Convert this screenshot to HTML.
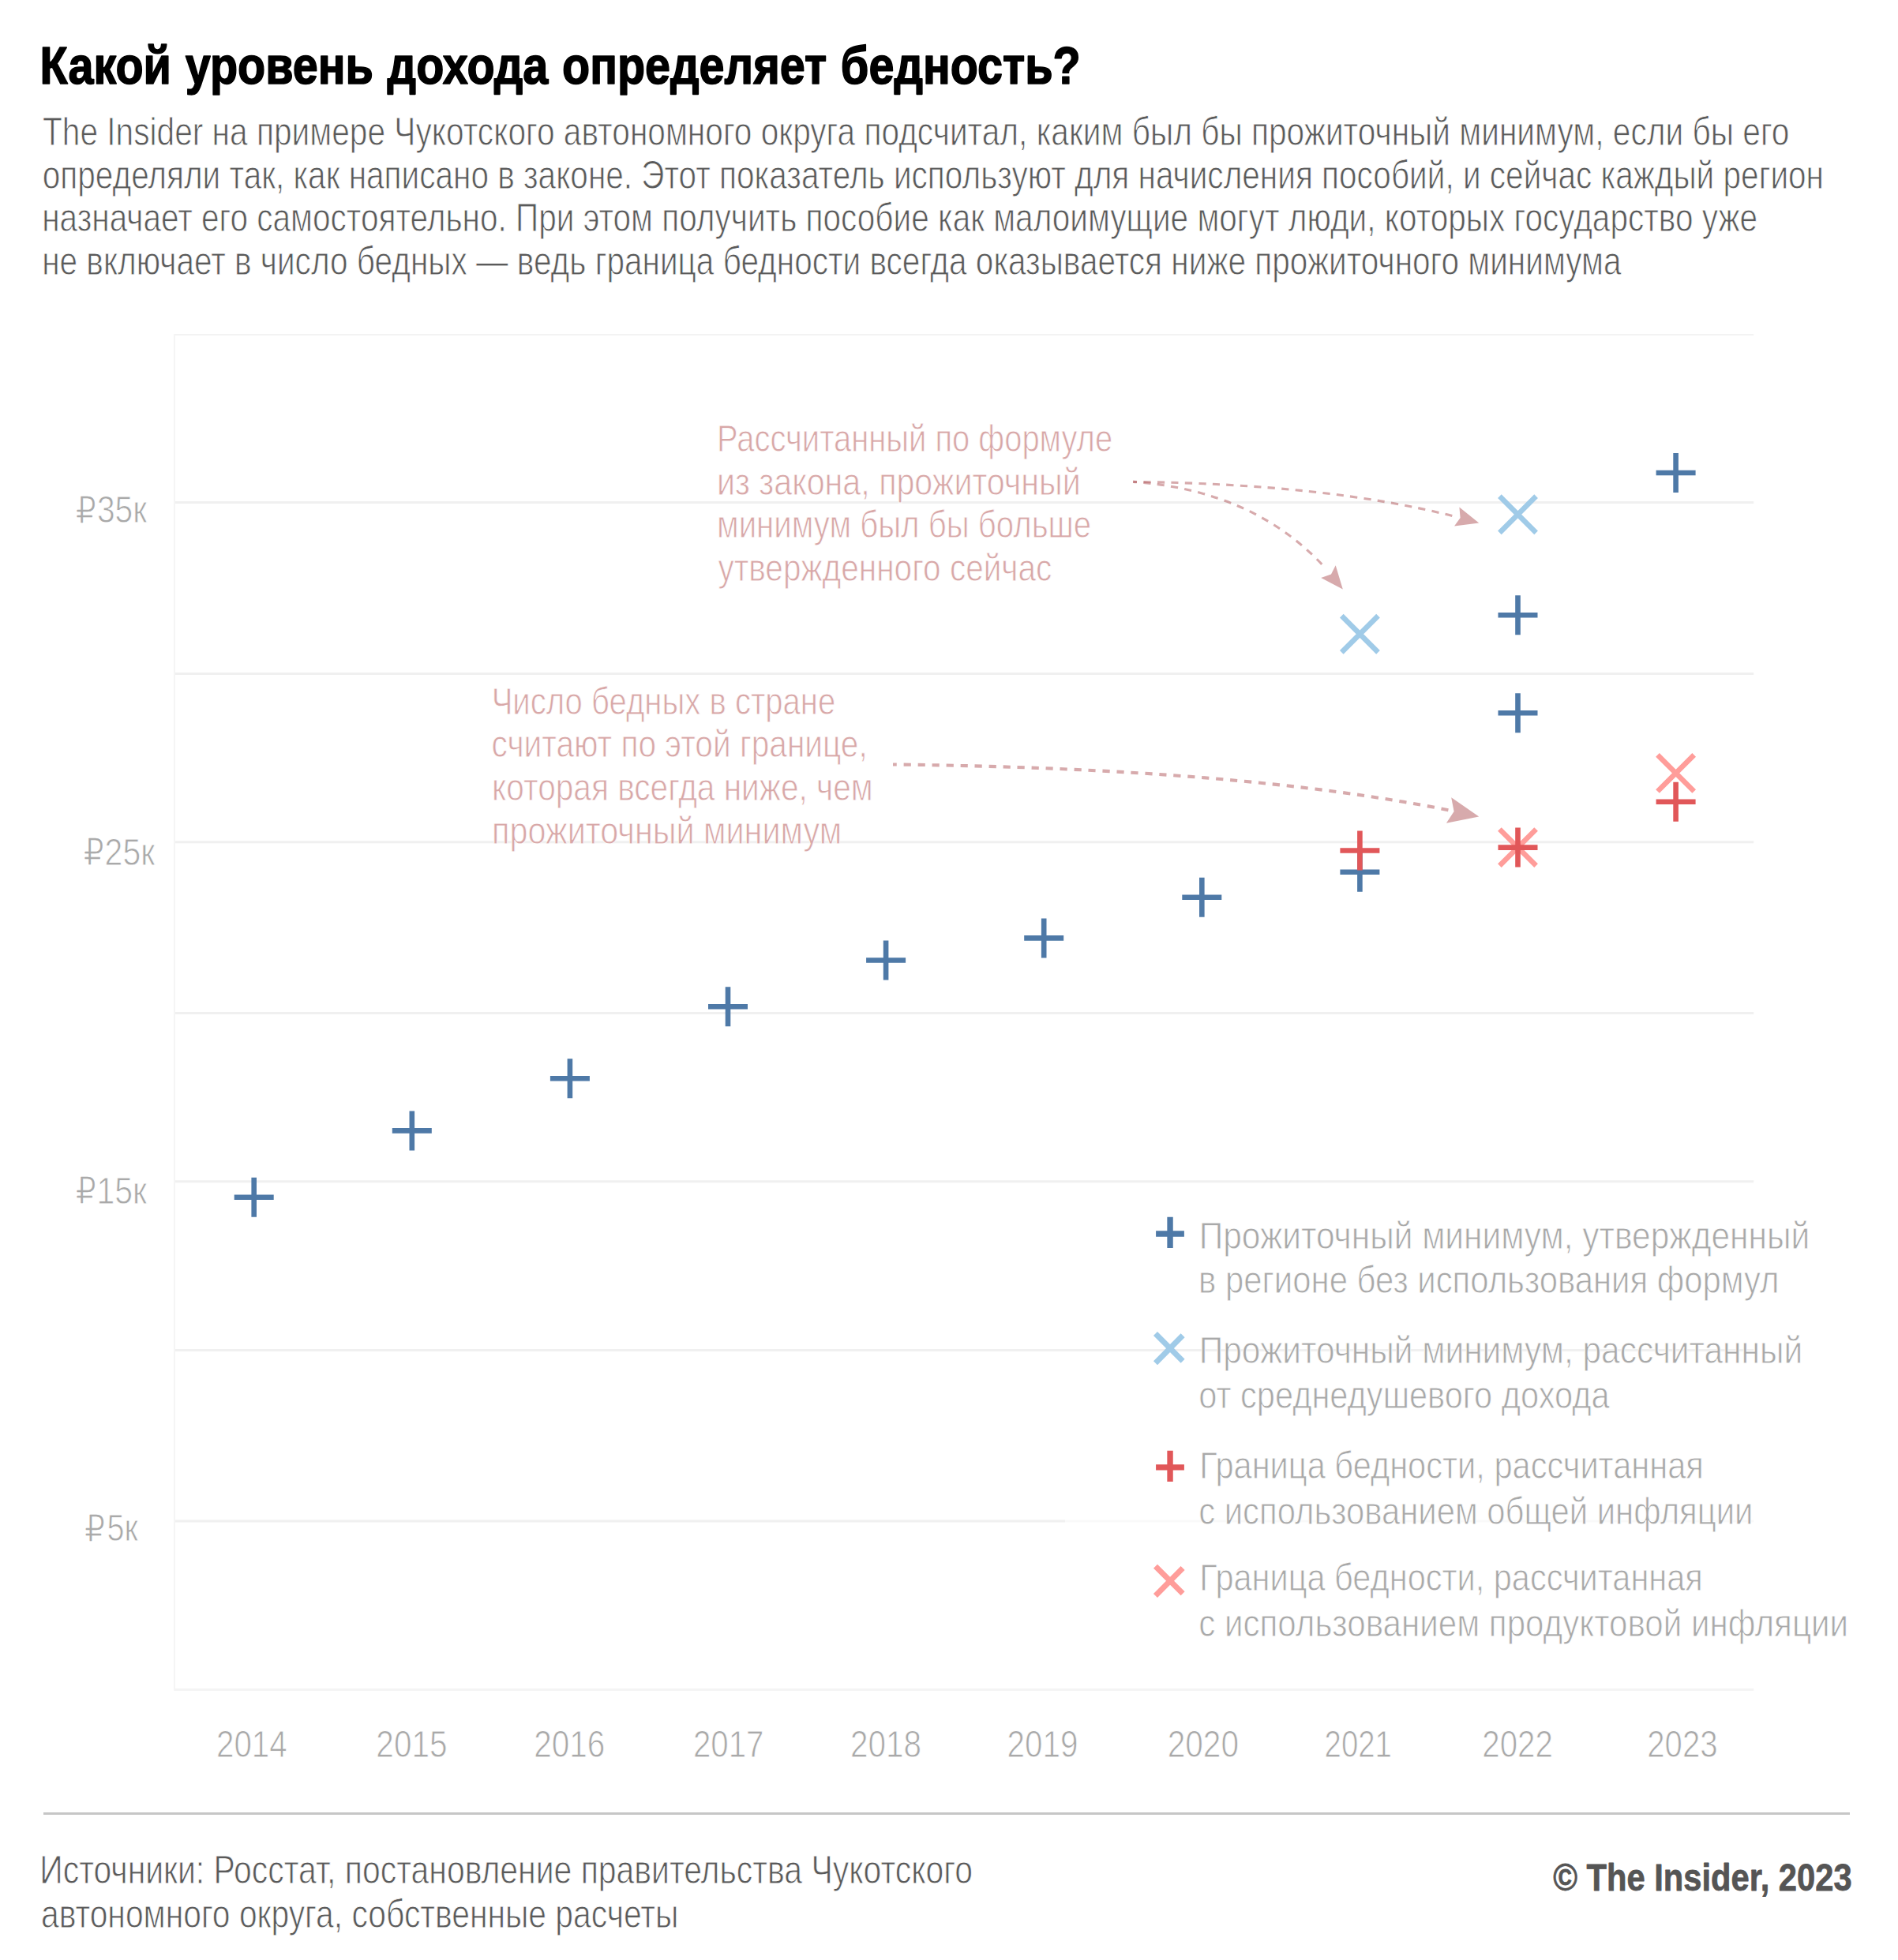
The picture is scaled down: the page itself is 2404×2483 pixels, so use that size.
<!DOCTYPE html>
<html lang="ru"><head><meta charset="utf-8"><title>Какой уровень дохода определяет бедность?</title>
<style>html,body{margin:0;padding:0;background:#fff}svg{display:block}text{font-family:'Liberation Sans', 'DejaVu Sans', sans-serif;white-space:pre}</style></head><body>
<svg width="2404" height="2483" viewBox="0 0 2404 2483">
<rect width="2404" height="2483" fill="#fff"/>
<g fill="none">
<path d="M221.0 636.6H2221.2" stroke="#f0f0f0" stroke-width="3"/>
<path d="M221.0 853.5H2221.2" stroke="#f0f0f0" stroke-width="3"/>
<path d="M221.0 1066.7H2221.2" stroke="#f0f0f0" stroke-width="3"/>
<path d="M221.0 1283.6H2221.2" stroke="#f0f0f0" stroke-width="3"/>
<path d="M221.0 1496.7H2221.2" stroke="#f0f0f0" stroke-width="3"/>
<path d="M221.0 1710.4H2221.2" stroke="#f0f0f0" stroke-width="3"/>
<path d="M221.0 1926.9H2221.2" stroke="#f0f0f0" stroke-width="3"/>
<path d="M221.0 424.0H2221.2" stroke="#f3f3f3" stroke-width="2.2"/>
<path d="M221.0 2140.5H2221.2" stroke="#f4f4f4" stroke-width="3"/>
<path d="M221.0 422.9V2142.0" stroke="#f5f5f5" stroke-width="2"/>
</g>
<rect x="1349" y="1815" width="1011" height="145" fill="#fff" fill-opacity="0.6"/>
<path d="M1699.3 780.1L1745.5 826.3M1699.3 826.3L1745.5 780.1" stroke="#a0cbe8" stroke-width="6.6" fill="none"/>
<path d="M1899.4 628.7L1945.6 674.9M1899.4 674.9L1945.6 628.7" stroke="#a0cbe8" stroke-width="6.6" fill="none"/>
<path d="M1899.4 1050.5L1945.6 1096.7M1899.4 1096.7L1945.6 1050.5" stroke="#ff9d9a" stroke-width="6.6" fill="none"/>
<path d="M2099.5 956.3L2145.7 1002.5M2099.5 1002.5L2145.7 956.3" stroke="#ff9d9a" stroke-width="6.6" fill="none"/>
<path d="M296.7 1516.7H346.7M321.7 1491.7V1541.7" stroke="#4e79a7" stroke-width="6.6" fill="none"/>
<path d="M496.8 1432.4H546.8M521.8 1407.4V1457.4" stroke="#4e79a7" stroke-width="6.6" fill="none"/>
<path d="M696.9 1366.3H746.9M721.9 1341.3V1391.3" stroke="#4e79a7" stroke-width="6.6" fill="none"/>
<path d="M897.0 1275.3H947.0M922.0 1250.3V1300.3" stroke="#4e79a7" stroke-width="6.6" fill="none"/>
<path d="M1097.1 1216.5H1147.1M1122.1 1191.5V1241.5" stroke="#4e79a7" stroke-width="6.6" fill="none"/>
<path d="M1297.2 1188.4H1347.2M1322.2 1163.4V1213.4" stroke="#4e79a7" stroke-width="6.6" fill="none"/>
<path d="M1497.3 1136.8H1547.3M1522.3 1111.8V1161.8" stroke="#4e79a7" stroke-width="6.6" fill="none"/>
<path d="M1697.4 1104.7H1747.4M1722.4 1079.7V1129.7" stroke="#4e79a7" stroke-width="6.6" fill="none"/>
<path d="M1897.5 903.3H1947.5M1922.5 878.3V928.3" stroke="#4e79a7" stroke-width="6.6" fill="none"/>
<path d="M1897.5 779.3H1947.5M1922.5 754.3V804.3" stroke="#4e79a7" stroke-width="6.6" fill="none"/>
<path d="M2097.6 599.0H2147.6M2122.6 574.0V624.0" stroke="#4e79a7" stroke-width="6.6" fill="none"/>
<path d="M1697.4 1077.5H1747.4M1722.4 1052.5V1102.5" stroke="#e15759" stroke-width="6.6" fill="none"/>
<path d="M1897.5 1073.6H1947.5M1922.5 1048.6V1098.6" stroke="#e15759" stroke-width="6.6" fill="none"/>
<path d="M2097.6 1015.8H2147.6M2122.6 990.8V1040.8" stroke="#e15759" stroke-width="6.6" fill="none"/>
<g fill="none" stroke="#b0555a" stroke-opacity="0.5" stroke-width="3.1" stroke-dasharray="9.2 8.3" stroke-dashoffset="4.5"><path d="M1435.2 610.4Q1679.7 613.0 1841.9 654.1"/></g>
<g fill="none" stroke="#b0555a" stroke-opacity="0.5" stroke-width="3.1" stroke-dasharray="9.2 8.3" stroke-dashoffset="4.5"><path d="M1435.2 610.4Q1589.8 621.4 1679.5 720.5"/></g>
<g fill="none" stroke="#b0555a" stroke-opacity="0.5" stroke-width="4.1" stroke-dasharray="9.2 8.8" stroke-dashoffset="4.5"><path d="M1131.0 968.5Q1569.4 973.3 1834.7 1026.3"/></g>
<g fill="#b0555a" fill-opacity="0.5">
<path d="M1873.2 662.6L1848.4 642.5L1849.6 656L1842 666.6Z"/>
<path d="M1700.8 746.5L1691.7 716.3L1686 727.5L1673.2 732.1Z"/>
<path d="M1873.2 1034.5L1838.2 1010.2L1841.6 1028.1L1831.9 1042.7Z"/>
</g>
<path d="M1464.1 1563.0H1499.9M1482.05 1541.8V1581.1" stroke="#4e79a7" stroke-width="7.4" fill="none"/>
<path d="M1463.5 1689.6L1498.1 1724.2M1463.5 1726.8L1498.1 1691.8" stroke="#a0cbe8" stroke-width="7.05" fill="none"/>
<path d="M1464.1 1858.9H1499.9M1482.05 1837.7V1877.0" stroke="#e15759" stroke-width="7.4" fill="none"/>
<path d="M1463.5 1984.2L1498.1 2018.8M1463.5 2021.4L1498.1 1986.4" stroke="#ff9d9a" stroke-width="7.05" fill="none"/>
<path d="M55 2297.4H2343" stroke="#c6c6c6" stroke-width="3" fill="none"/>
<text x="50.57" y="105.70" font-size="67.5" font-weight="bold" fill="#000" textLength="1318.20" lengthAdjust="spacingAndGlyphs" stroke="#000" stroke-width="1.6" stroke-linejoin="round" word-spacing="2">Какой уровень дохода определяет бедность?</text>
<text x="54.00" y="183.65" font-size="49.3" fill="#5a5a5a" textLength="2212.43" lengthAdjust="spacingAndGlyphs" stroke="#fff" stroke-width="0.9">The Insider на примере Чукотского автономного округа подсчитал, каким был бы прожиточный минимум, если бы его</text>
<text x="53.78" y="238.65" font-size="49.3" fill="#5a5a5a" textLength="2256.24" lengthAdjust="spacingAndGlyphs" stroke="#fff" stroke-width="0.9">определяли так, как написано в законе. Этот показатель используют для начисления пособий, и сейчас каждый регион</text>
<text x="53.16" y="293.35" font-size="49.3" fill="#5a5a5a" textLength="2172.97" lengthAdjust="spacingAndGlyphs" stroke="#fff" stroke-width="0.9">назначает его самостоятельно. При этом получить пособие как малоимущие могут люди, которых государство уже</text>
<text x="53.16" y="348.25" font-size="49.3" fill="#5a5a5a" textLength="2000.33" lengthAdjust="spacingAndGlyphs" stroke="#fff" stroke-width="0.9">не включает в число бедных — ведь граница бедности всегда оказывается ниже прожиточного минимума</text>
<text x="908.05" y="572.05" font-size="48.3" fill="#d8a8a8" textLength="501.06" lengthAdjust="spacingAndGlyphs" stroke="#fff" stroke-width="0.9">Рассчитанный по формуле</text>
<text x="907.96" y="626.65" font-size="48.3" fill="#d8a8a8" textLength="460.77" lengthAdjust="spacingAndGlyphs" stroke="#fff" stroke-width="0.9">из закона, прожиточный</text>
<text x="908.03" y="681.45" font-size="48.3" fill="#d8a8a8" textLength="474.19" lengthAdjust="spacingAndGlyphs" stroke="#fff" stroke-width="0.9">минимум был бы больше</text>
<text x="909.42" y="736.45" font-size="48.3" fill="#d8a8a8" textLength="422.92" lengthAdjust="spacingAndGlyphs" stroke="#fff" stroke-width="0.9">утвержденного сейчас</text>
<text x="622.64" y="904.55" font-size="48.3" fill="#d8a8a8" textLength="435.68" lengthAdjust="spacingAndGlyphs" stroke="#fff" stroke-width="0.9">Число бедных в стране</text>
<text x="622.54" y="959.35" font-size="48.3" fill="#d8a8a8" textLength="476.22" lengthAdjust="spacingAndGlyphs" stroke="#fff" stroke-width="0.9">считают по этой границе,</text>
<text x="623.10" y="1014.05" font-size="48.3" fill="#d8a8a8" textLength="482.67" lengthAdjust="spacingAndGlyphs" stroke="#fff" stroke-width="0.9">которая всегда ниже, чем</text>
<text x="623.05" y="1068.85" font-size="48.3" fill="#d8a8a8" textLength="443.08" lengthAdjust="spacingAndGlyphs" stroke="#fff" stroke-width="0.9">прожиточный минимум</text>
<text x="1518.67" y="1581.75" font-size="48.3" fill="#a9a9a9" textLength="773.44" lengthAdjust="spacingAndGlyphs" stroke="#fff" stroke-width="0.9">Прожиточный минимум, утвержденный</text>
<text x="1518.11" y="1638.45" font-size="48.3" fill="#a9a9a9" textLength="735.44" lengthAdjust="spacingAndGlyphs" stroke="#fff" stroke-width="0.9">в регионе без использования формул</text>
<text x="1518.67" y="1727.25" font-size="48.3" fill="#a9a9a9" textLength="764.55" lengthAdjust="spacingAndGlyphs" stroke="#fff" stroke-width="0.9">Прожиточный минимум, рассчитанный</text>
<text x="1518.19" y="1784.35" font-size="48.3" fill="#a9a9a9" textLength="520.48" lengthAdjust="spacingAndGlyphs" stroke="#fff" stroke-width="0.9">от среднедушевого дохода</text>
<text x="1519.23" y="1872.85" font-size="48.3" fill="#a9a9a9" textLength="638.67" lengthAdjust="spacingAndGlyphs" stroke="#fff" stroke-width="0.9">Граница бедности, рассчитанная</text>
<text x="1518.18" y="1931.15" font-size="48.3" fill="#a9a9a9" textLength="702.29" lengthAdjust="spacingAndGlyphs" stroke="#fff" stroke-width="0.9">с использованием общей инфляции</text>
<text x="1519.24" y="2014.65" font-size="48.3" fill="#a9a9a9" textLength="637.56" lengthAdjust="spacingAndGlyphs" stroke="#fff" stroke-width="0.9">Граница бедности, рассчитанная</text>
<text x="1518.16" y="2072.55" font-size="48.3" fill="#a9a9a9" textLength="822.93" lengthAdjust="spacingAndGlyphs" stroke="#fff" stroke-width="0.9">с использованием продуктовой инфляции</text>
<text x="273.95" y="2226.45" font-size="48.3" fill="#a9a9a9" textLength="89.84" lengthAdjust="spacingAndGlyphs" stroke="#fff" stroke-width="0.9">2014</text>
<text x="476.34" y="2226.45" font-size="48.3" fill="#a9a9a9" textLength="90.20" lengthAdjust="spacingAndGlyphs" stroke="#fff" stroke-width="0.9">2015</text>
<text x="676.15" y="2226.45" font-size="48.3" fill="#a9a9a9" textLength="90.09" lengthAdjust="spacingAndGlyphs" stroke="#fff" stroke-width="0.9">2016</text>
<text x="877.96" y="2226.45" font-size="48.3" fill="#a9a9a9" textLength="89.57" lengthAdjust="spacingAndGlyphs" stroke="#fff" stroke-width="0.9">2017</text>
<text x="1076.95" y="2226.45" font-size="48.3" fill="#a9a9a9" textLength="89.99" lengthAdjust="spacingAndGlyphs" stroke="#fff" stroke-width="0.9">2018</text>
<text x="1275.45" y="2226.45" font-size="48.3" fill="#a9a9a9" textLength="89.99" lengthAdjust="spacingAndGlyphs" stroke="#fff" stroke-width="0.9">2019</text>
<text x="1478.64" y="2226.45" font-size="48.3" fill="#a9a9a9" textLength="90.41" lengthAdjust="spacingAndGlyphs" stroke="#fff" stroke-width="0.9">2020</text>
<text x="1677.55" y="2226.45" font-size="48.3" fill="#a9a9a9" textLength="85.38" lengthAdjust="spacingAndGlyphs" stroke="#fff" stroke-width="0.9">2021</text>
<text x="1877.26" y="2226.45" font-size="48.3" fill="#a9a9a9" textLength="89.67" lengthAdjust="spacingAndGlyphs" stroke="#fff" stroke-width="0.9">2022</text>
<text x="2086.26" y="2226.45" font-size="48.3" fill="#a9a9a9" textLength="89.36" lengthAdjust="spacingAndGlyphs" stroke="#fff" stroke-width="0.9">2023</text>
<text x="96.52" y="661.50" font-size="44.5" font-weight="200" fill="#a9a9a9" textLength="25.45" lengthAdjust="spacingAndGlyphs" stroke="#a9a9a9" stroke-width="0.7" stroke-linejoin="round">₽</text>
<text x="122.88" y="662.25" font-size="48.3" fill="#a9a9a9" textLength="63.17" lengthAdjust="spacingAndGlyphs" stroke="#fff" stroke-width="0.9">35к</text>
<text x="106.42" y="1095.10" font-size="44.5" font-weight="200" fill="#a9a9a9" textLength="25.34" lengthAdjust="spacingAndGlyphs" stroke="#a9a9a9" stroke-width="0.7" stroke-linejoin="round">₽</text>
<text x="132.62" y="1095.85" font-size="48.3" fill="#a9a9a9" textLength="63.63" lengthAdjust="spacingAndGlyphs" stroke="#fff" stroke-width="0.9">25к</text>
<text x="96.52" y="1524.20" font-size="44.5" font-weight="200" fill="#a9a9a9" textLength="25.45" lengthAdjust="spacingAndGlyphs" stroke="#a9a9a9" stroke-width="0.7" stroke-linejoin="round">₽</text>
<text x="122.47" y="1524.95" font-size="48.3" fill="#a9a9a9" textLength="63.57" lengthAdjust="spacingAndGlyphs" stroke="#fff" stroke-width="0.9">15к</text>
<text x="107.72" y="1951.50" font-size="44.5" font-weight="200" fill="#a9a9a9" textLength="25.45" lengthAdjust="spacingAndGlyphs" stroke="#a9a9a9" stroke-width="0.7" stroke-linejoin="round">₽</text>
<text x="135.41" y="1952.25" font-size="48.3" fill="#a9a9a9" textLength="39.34" lengthAdjust="spacingAndGlyphs" stroke="#fff" stroke-width="0.9">5к</text>
<text x="50.31" y="2385.65" font-size="49.3" fill="#5a5a5a" textLength="1181.74" lengthAdjust="spacingAndGlyphs" stroke="#fff" stroke-width="0.9">Источники: Росстат, постановление правительства Чукотского</text>
<text x="51.97" y="2441.65" font-size="49.3" fill="#5a5a5a" textLength="807.31" lengthAdjust="spacingAndGlyphs" stroke="#fff" stroke-width="0.9">автономного округа, собственные расчеты</text>
<text x="1967.24" y="2394.50" font-size="48.5" font-weight="bold" fill="#555" textLength="378.35" lengthAdjust="spacingAndGlyphs" stroke="#555" stroke-width="0.8" stroke-linejoin="round">© The Insider, 2023</text>
</svg></body></html>
